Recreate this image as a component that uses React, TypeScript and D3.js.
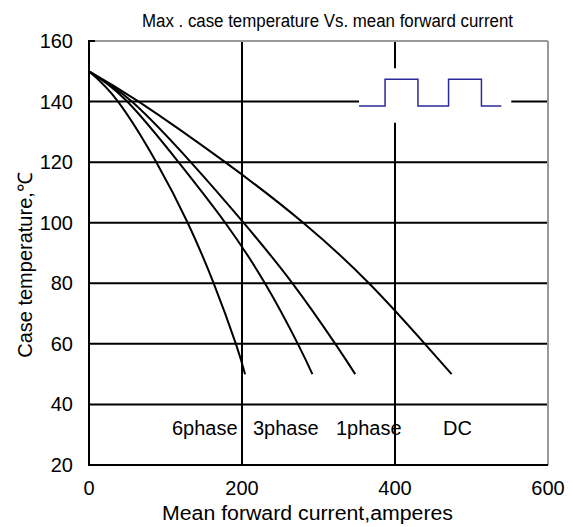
import React from "react";
import * as d3 from "d3";

// mean forward current (A) vs max case temperature (°C)
const temps = [150, 140, 120, 100, 80, 60, 50];
const sixPhase = [0, 38, 88, 129, 163, 192, 204];
const threePhase = [0, 50, 117, 178, 230, 273, 292];
const onePhase = [0, 56, 133, 202, 266, 322, 348];
const dcCurrent = [0, 65, 178, 280, 366, 439, 474];

const xTicks = [0, 200, 400, 600];
const yTicks = [20, 40, 60, 80, 100, 120, 140, 160];
const curveLabels = [
  { text: "6phase", x: 172 },
  { text: "3phase", x: 253 },
  { text: "1phase", x: 336 },
  { text: "DC", x: 443 },
];

// square-wave sketch in the upper right (data units)
const waveX = [353, 359, 387, 387, 430, 430, 470, 470, 513, 513, 539];
const waveY = [138.5, 138.5, 138.5, 147.4, 147.4, 138.5, 138.5, 147.4, 147.4, 138.5, 138.5];

const W = 573;
const H = 527;
const font = "'Liberation Sans Narrow', 'Liberation Sans', Arial, sans-serif";

export default function App() {
  const x = d3.scaleLinear().domain([0, 600]).range([89, 548]);
  const y = d3.scaleLinear().domain([20, 160]).range([465, 41]);

  const line = d3
    .line<[number, number]>()
    .x((d) => x(d[0]))
    .y((d) => y(d[1]))
    .curve(d3.curveNatural);

  const series = [sixPhase, threePhase, onePhase, dcCurrent].map((xs) =>
    xs.map((v, i) => [v, temps[i]] as [number, number])
  );

  const wave = d3
    .line<number>()
    .x((d) => x(d))
    .y((_, i) => y(waveY[i]));

  return (
    <svg
      width={W}
      height={H}
      style={{ position: "absolute", left: 0, top: 0, background: "#fff" }}
      fontFamily={font}
    >
      <text x={142} y={27} fontSize={18} textLength={371} lengthAdjust="spacingAndGlyphs">
        Max . case temperature Vs. mean forward current
      </text>

      {/* grid */}
      {yTicks.slice(1, -1).map((t) => (
        <line key={"h" + t} x1={x(0)} x2={x(600)} y1={y(t)} y2={y(t)} stroke="#000" strokeWidth={2} />
      ))}
      {[200, 400].map((t) => (
        <line key={"v" + t} x1={x(t)} x2={x(t)} y1={y(160)} y2={y(20)} stroke="#000" strokeWidth={2} />
      ))}

      {/* frame */}
      <line x1={x(0)} x2={x(600)} y1={y(160)} y2={y(160)} stroke="#999" strokeWidth={2} />
      <line x1={x(600)} x2={x(600)} y1={y(160)} y2={y(20)} stroke="#999" strokeWidth={2} />
      <line x1={x(0)} x2={x(0) + 6} y1={y(160)} y2={y(160)} stroke="#000" strokeWidth={2} />
      <line x1={x(0)} x2={x(0)} y1={y(160) - 1} y2={y(20) + 1} stroke="#000" strokeWidth={2} />
      <line x1={x(0)} x2={x(600)} y1={y(20)} y2={y(20)} stroke="#000" strokeWidth={2} />

      {/* white box behind the wave */}
      <rect x={x(353)} y={y(151)} width={x(552) - x(353)} height={y(133) - y(151)} fill="#fff" />
      <path d={wave(waveX) || ""} fill="none" stroke="#2a2a9a" strokeWidth={1.5} />

      {/* curves */}
      {series.map((s, i) => (
        <path key={i} d={line(s) || ""} fill="none" stroke="#000" strokeWidth={2} />
      ))}

      {curveLabels.map((l) => (
        <text key={l.text} x={l.x} y={435} fontSize={20}>
          {l.text}
        </text>
      ))}

      {/* tick labels */}
      {yTicks.map((t) => (
        <text key={"yl" + t} x={73} y={y(t)} dy="0.35em" textAnchor="end" fontSize={20}>
          {t}
        </text>
      ))}
      {xTicks.map((t) => (
        <text key={"xl" + t} x={x(t)} y={495} textAnchor="middle" fontSize={20}>
          {t}
        </text>
      ))}

      <text x={162} y={520} fontSize={20} textLength={291} lengthAdjust="spacingAndGlyphs">
        Mean forward current,amperes
      </text>
      <text
        transform={`translate(32,265) rotate(-90)`}
        textAnchor="middle"
        fontSize={20}
      >
        Case temperature,℃
      </text>
    </svg>
  );
}
